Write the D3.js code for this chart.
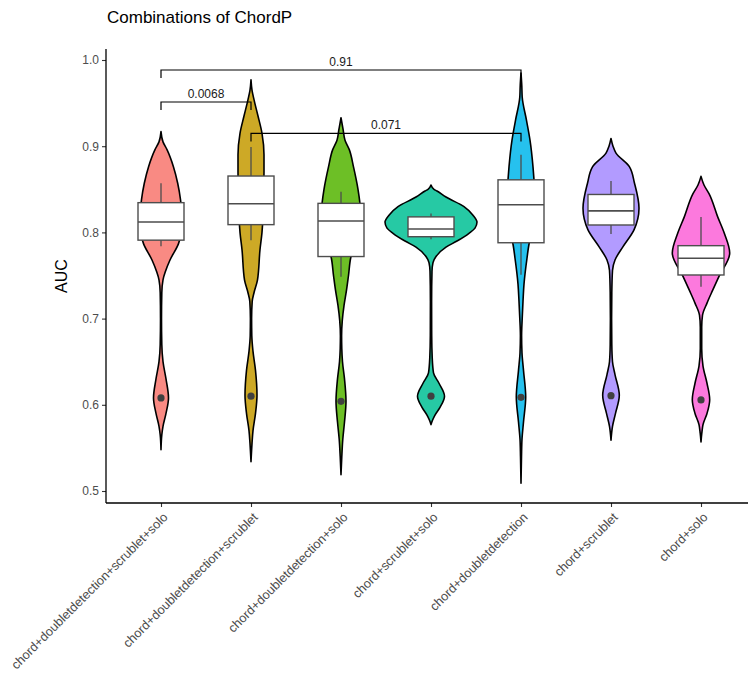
<!DOCTYPE html>
<html>
<head>
<meta charset="utf-8">
<script src="https://cdn.jsdelivr.net/npm/d3@7"></script>
<style>
  html, body { margin: 0; padding: 0; background: #fff; }
  svg { display: block; font-family: "Liberation Sans", Arial, sans-serif; }
</style>
</head>
<body>
<svg id="chart" width="748" height="674"></svg>
<script>
// Combination groups, in plotting order
const categories = [
  "chord+doubletdetection+scrublet+solo",
  "chord+doubletdetection+scrublet",
  "chord+doubletdetection+solo",
  "chord+scrublet+solo",
  "chord+doubletdetection",
  "chord+scrublet",
  "chord+solo"
];

const fills = ["#F8766D", "#C49A00", "#53B400", "#00C094", "#00B6EB", "#A58AFF", "#FB61D7"];

// Violin density profiles: [AUC, relative density]
const density1 = [[0.917,0],[0.905,1],[0.896,3],[0.876,6.25],[0.857,8.35],[0.838,9.75],[0.815,10.5],[0.795,9.75],[0.787,8.75],[0.768,4.5],[0.755,2.25],[0.745,1],[0.73,0.4],[0.70,0.25],[0.67,0.4],[0.65,1],[0.63,2.5],[0.608,3.75],[0.59,2.5],[0.575,1],[0.565,0.4],[0.548,0]];
const density2 = [[0.977,0],[0.965,0.5],[0.954,1.5],[0.935,3.5],[0.915,5.5],[0.89,6.5],[0.87,6.5],[0.85,6.25],[0.82,6],[0.80,5.5],[0.78,4.5],[0.745,3.25],[0.73,1.5],[0.72,0.6],[0.70,0.3],[0.68,0.4],[0.662,1],[0.64,2.25],[0.611,3],[0.59,2.25],[0.57,1],[0.555,0.5],[0.534,0]];
const density3 = [[0.933,0],[0.92,1],[0.907,2],[0.896,4.15],[0.876,6.25],[0.85,8.5],[0.833,9.5],[0.815,10],[0.795,8.5],[0.772,5],[0.75,3.75],[0.733,2.75],[0.715,1.5],[0.698,0.65],[0.68,0.3],[0.665,0.4],[0.65,0.75],[0.63,1.75],[0.604,2.5],[0.58,1.75],[0.56,0.9],[0.54,0.4],[0.519,0]];
const density4 = [[0.855,0],[0.85,1.5],[0.848,3],[0.841,7.5],[0.83,16.5],[0.82,21],[0.812,23],[0.805,22],[0.799,19],[0.79,13],[0.783,7.5],[0.772,2.5],[0.765,1],[0.755,0.5],[0.72,0.3],[0.68,0.35],[0.655,0.6],[0.637,1.25],[0.625,4],[0.61,6.75],[0.597,4.5],[0.588,2],[0.582,0.75],[0.577,0]];
const density5 = [[0.985,0],[0.97,0.4],[0.957,0.6],[0.93,2.75],[0.907,4.5],[0.876,6],[0.85,6.75],[0.83,7],[0.81,6.5],[0.80,5.5],[0.788,4.15],[0.77,3],[0.74,1.5],[0.72,1],[0.70,0.6],[0.68,0.3],[0.66,0.5],[0.64,1.25],[0.609,2.35],[0.58,1.25],[0.56,0.5],[0.54,0.25],[0.509,0]];
const density6 = [[0.909,0],[0.9,1],[0.892,2.5],[0.876,9.25],[0.857,11.75],[0.828,14],[0.803,11.5],[0.783,5.85],[0.768,2],[0.756,0.75],[0.73,0.4],[0.70,0.3],[0.67,0.4],[0.65,0.75],[0.635,2],[0.611,4.15],[0.59,2.25],[0.575,0.75],[0.559,0]];
const density7 = [[0.865,0],[0.855,1.5],[0.845,4],[0.818,8.35],[0.799,11.65],[0.776,14.35],[0.749,9],[0.733,5.85],[0.718,3],[0.704,0.75],[0.69,0.35],[0.665,0.35],[0.645,1],[0.625,3],[0.606,4.35],[0.59,3],[0.577,1],[0.567,0.4],[0.557,0]];
const densities = [density1, density2, density3, density4, density5, density6, density7];

// Box summaries: lower whisker, Q1, median, Q3, upper whisker
const whiskerLow = [0.784, 0.791, 0.7486, 0.792, 0.751, 0.798, 0.737];
const q1        = [0.791, 0.809, 0.772, 0.795, 0.788, 0.8086, 0.7506];
const medians   = [0.812, 0.8333, 0.8132, 0.804, 0.832, 0.825, 0.770];
const q3        = [0.8345, 0.8654, 0.8337, 0.818, 0.861, 0.844, 0.7846];
const whiskerHigh = [0.857, 0.899, 0.8473, 0.822, 0.890, 0.8596, 0.818];

// Low-AUC points shown in each group
const lowPoints = [0.608, 0.610, 0.604, 0.610, 0.6087, 0.6106, 0.6056];

// Y-axis ticks
const yTicks = [0.5, 0.6, 0.7, 0.8, 0.9, 1.0];

// Pairwise comparisons: [group A, group B, p-value label, bracket height (AUC)]
const comparisons = [
  ["chord+doubletdetection+scrublet+solo", "chord+doubletdetection+scrublet", "0.0068", 0.9513],
  ["chord+doubletdetection+scrublet", "chord+doubletdetection", "0.071", 0.9148],
  ["chord+doubletdetection+scrublet+solo", "chord+doubletdetection", "0.91", 0.9884]
];

const svg = d3.select("#chart");
const plot = { left: 106, right: 748, top: 49, bottom: 503 };

const x = d3.scalePoint().domain(categories).range([107, 755]).padding(0.6);
const y = d3.scaleLinear().domain([0.48608, 1.01276]).range([plot.bottom, plot.top]);
const w = d3.scaleLinear().domain([0, 23]).range([0, 46]);
const boxHalf = 23;
const tickShort = 1 / 862 * 8; // bracket tip length in AUC units

// Violins
const area = d3.area()
  .curve(d3.curveMonotoneY)
  .y(d => y(d[0]));

const g = svg.append("g");
categories.forEach((c, i) => {
  const cx = x(c);
  const prof = densities[i].slice().sort((a, b) => a[0] - b[0]);
  g.append("path")
    .datum(prof)
    .attr("d", area.x0(d => cx - w(d[1])).x1(d => cx + w(d[1])))
    .attr("fill", fills[i])
    .attr("fill-opacity", 0.85)
    .attr("stroke", "#000")
    .attr("stroke-width", 1.6)
    .attr("stroke-linejoin", "round");
});

// Boxplots
categories.forEach((c, i) => {
  const cx = x(c);
  g.append("line")
    .attr("x1", cx).attr("x2", cx)
    .attr("y1", y(whiskerLow[i])).attr("y2", y(whiskerHigh[i]))
    .attr("stroke", "#4d4d4d").attr("stroke-width", 1.3);
  g.append("rect")
    .attr("x", cx - boxHalf).attr("width", boxHalf * 2)
    .attr("y", y(q3[i])).attr("height", y(q1[i]) - y(q3[i]))
    .attr("fill", "#fff")
    .attr("stroke", "#4d4d4d").attr("stroke-width", 1.4);
  g.append("line")
    .attr("x1", cx - boxHalf).attr("x2", cx + boxHalf)
    .attr("y1", y(medians[i])).attr("y2", y(medians[i]))
    .attr("stroke", "#4d4d4d").attr("stroke-width", 1.6);
  g.append("circle")
    .attr("cx", cx).attr("cy", y(lowPoints[i]))
    .attr("r", 3.6)
    .attr("fill", "#404040");
});

// Significance brackets
comparisons.forEach(([a, b, label, h]) => {
  const xa = x(a), xb = x(b), yh = y(h), yt = y(h - tickShort);
  svg.append("path")
    .attr("d", `M${xa},${yt}V${yh}H${xb}V${yt}`)
    .attr("fill", "none")
    .attr("stroke", "#000")
    .attr("stroke-width", 1.2);
  svg.append("text")
    .attr("x", (xa + xb) / 2)
    .attr("y", yh - 4)
    .attr("text-anchor", "middle")
    .attr("font-size", 12)
    .attr("fill", "#1a1a1a")
    .text(label);
});

// Y axis
const yAxis = svg.append("g")
  .attr("transform", `translate(${plot.left},0)`)
  .call(d3.axisLeft(y).tickValues(yTicks).tickFormat(d3.format(".1f")).tickSize(4).tickPadding(3));
yAxis.select(".domain").remove();
yAxis.append("line")
  .attr("x1", 0).attr("x2", 0).attr("y1", plot.top).attr("y2", plot.bottom)
  .attr("stroke", "#000").attr("stroke-width", 1.3);
yAxis.selectAll(".tick line").attr("stroke", "#333").attr("stroke-width", 1.1);
yAxis.selectAll(".tick text")
  .attr("font-size", 12).attr("fill", "#4d4d4d")
  .attr("font-family", "Liberation Sans, Arial, sans-serif");

// X axis
const xAxis = svg.append("g")
  .attr("transform", `translate(0,${plot.bottom})`)
  .call(d3.axisBottom(x).tickSize(4).tickPadding(4));
xAxis.select(".domain").remove();
xAxis.append("line")
  .attr("x1", plot.left).attr("x2", plot.right).attr("y1", 0).attr("y2", 0)
  .attr("stroke", "#000").attr("stroke-width", 1.3);
xAxis.selectAll(".tick line").attr("stroke", "#333").attr("stroke-width", 1.1);
xAxis.selectAll(".tick text")
  .attr("font-size", 12.7).attr("fill", "#4d4d4d")
  .attr("font-family", "Liberation Sans, Arial, sans-serif")
  .attr("text-anchor", "end")
  .attr("y", 0).attr("dy", 0)
  .attr("transform", "translate(7,15) rotate(-45)");

// Titles
svg.append("text")
  .attr("x", 107).attr("y", 23)
  .attr("font-size", 17)
  .attr("fill", "#000")
  .text("Combinations of ChordP");

svg.append("text")
  .attr("transform", `translate(67,${(plot.top + plot.bottom) / 2}) rotate(-90)`)
  .attr("text-anchor", "middle")
  .attr("font-size", 16)
  .attr("fill", "#000")
  .text("AUC");
</script>
</body>
</html>
